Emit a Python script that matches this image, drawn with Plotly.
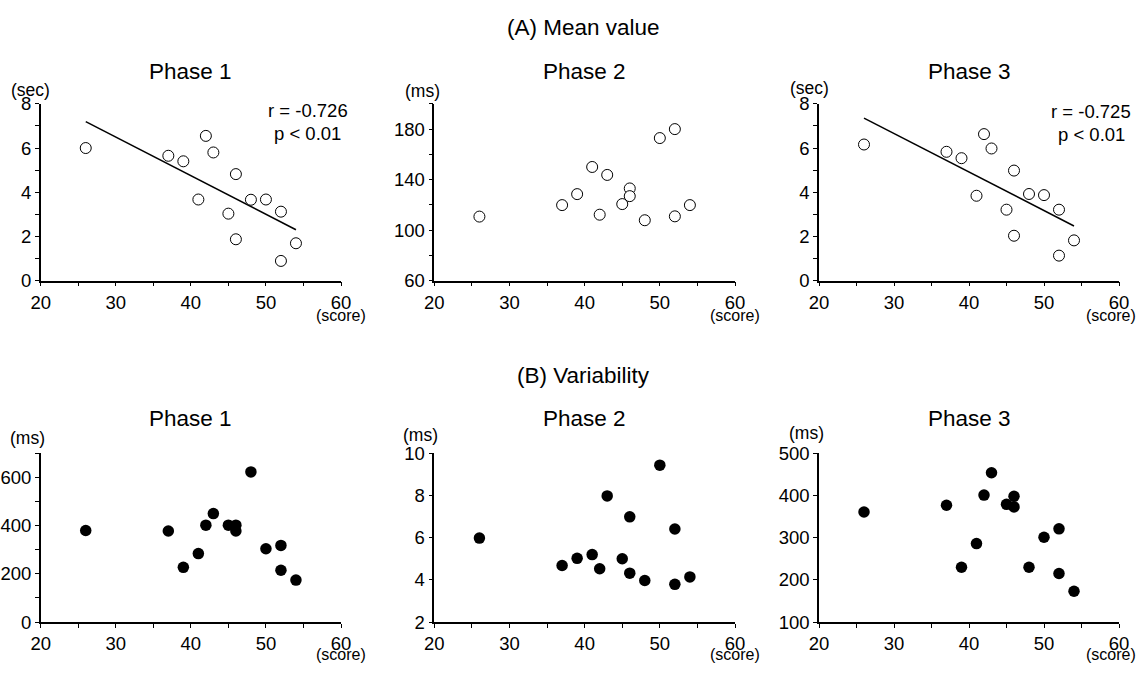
import numpy as np
import plotly.graph_objects as go

W, H = 1148, 675

# ---------------- data ----------------
score = [26, 37, 39, 41, 42, 43, 45, 46, 46, 48, 50, 52, 52, 54]

mean_phase1 = [6.0, 5.65, 5.4, 3.67, 6.55, 5.8, 3.03, 4.82, 1.87, 3.66, 3.67, 3.12, 0.89, 1.69]   # sec
mean_phase2 = [110.7, 119.8, 128.5, 150, 112.2, 143.7, 120.6, 133, 126.9, 107.8, 172.9, 180, 110.9, 119.8]  # ms
mean_phase3 = [6.16, 5.83, 5.54, 3.84, 6.63, 5.98, 3.21, 4.98, 2.03, 3.92, 3.87, 3.21, 1.13, 1.82]  # sec

var_phase1 = [380, 378, 227, 284, 402, 450, 402, 402, 378, 623, 304, 318, 215, 174]   # ms
var_phase2 = [5.98, 4.68, 5.02, 5.2, 4.53, 7.98, 5.0, 6.99, 4.32, 3.97, 9.44, 6.41, 3.79, 4.14]  # ms
var_phase3 = [361, 377, 230, 286, 401, 454, 379, 398, 373, 230, 301, 321, 215, 173]   # ms

panel_titles = ["Phase 1", "Phase 2", "Phase 3"]
section_titles = ["(A) Mean value", "(B) Variability"]
units_top = ["(sec)", "(ms)", "(sec)"]
units_bottom = ["(ms)", "(ms)", "(ms)"]
stats_text = {1: ("r = -0.726", "p < 0.01"), 3: ("r = -0.725", "p < 0.01")}

# y axis settings: (range, label dtick, minor dtick)
yaxes_cfg = [
    ([0, 8], 2, 1),
    ([60, 200], 40, 20),
    ([0, 8], 2, 1),
    ([0, 700], 200, 100),
    ([2, 10], 2, None),
    ([100, 500], 100, None),
]

FONT = "Liberation Sans, Arial, sans-serif"

# ---------------- layout geometry ----------------
# target positions in final picture pixels; the capture maps the page into a
# 10px-inset area, so convert to paper fractions accordingly
PAD = 10.0
AW, AH = W - 2 * PAD, H - 2 * PAD

xcols = [(40.7, 341), (434.3, 735), (819, 1119)]
yrows = [(103, 280), (453, 622)]


def px_x(x):
    return (x - PAD) / AW


def px_y(y):
    return 1 - (y - PAD) / AH


fig = go.Figure()
series = [mean_phase1, mean_phase2, mean_phase3, var_phase1, var_phase2, var_phase3]

TICK_FS = 18.5
TITLE_FS = 22.5
UNIT_FS = 17.5
SCORE_FS = 16

layout = dict(
    width=W, height=H,
    margin=dict(l=0, r=0, t=0, b=0),
    paper_bgcolor="white", plot_bgcolor="white",
    showlegend=False,
    font=dict(family=FONT, size=TICK_FS, color="black"),
)

annotations = []

for i in range(6):
    row, col = divmod(i, 3)
    n = i + 1
    xname = "xaxis" if n == 1 else f"xaxis{n}"
    yname = "yaxis" if n == 1 else f"yaxis{n}"
    xref = "x" if n == 1 else f"x{n}"
    yref = "y" if n == 1 else f"y{n}"

    x0, x1 = xcols[col]
    y0, y1 = yrows[row]
    yr, ydt, ymin = yaxes_cfg[i]

    layout[xname] = dict(
        domain=[px_x(x0), px_x(x1)], anchor=yref,
        range=[20, 60], tickvals=[20, 30, 40, 50, 60],
        showgrid=False, zeroline=False,
        showline=True, linecolor="black", linewidth=1.5,
        ticks="outside", ticklen=4, tickwidth=1.2, tickcolor="black",
        minor=dict(tickvals=[25, 35, 45, 55], ticks="outside", ticklen=4,
                   tickwidth=1.2, tickcolor="black", showgrid=False),
        tickfont=dict(size=TICK_FS, family=FONT, color="black"),
        fixedrange=True,
    )
    ydict = dict(
        domain=[px_y(y1), px_y(y0)], anchor=xref,
        range=yr, dtick=ydt, tick0=yr[0],
        showgrid=False, zeroline=False,
        showline=True, linecolor="black", linewidth=1.5,
        ticks="outside", ticklen=4, tickwidth=1.2, tickcolor="black",
        tickfont=dict(size=TICK_FS, family=FONT, color="black"),
        fixedrange=True,
    )
    if ymin is not None:
        ydict["minor"] = dict(dtick=ymin, tick0=yr[0], ticks="outside", ticklen=4,
                              tickwidth=1.2, tickcolor="black", showgrid=False)
    layout[yname] = ydict

    ys = series[i]
    if row == 0:
        # least-squares regression line for phases 1 and 3
        if col in (0, 2):
            slope, intercept = np.polyfit(score, ys, 1)
            lx = np.array([min(score), max(score)])
            fig.add_trace(go.Scatter(
                x=lx, y=slope * lx + intercept, mode="lines",
                line=dict(color="black", width=1.5),
                xaxis=xref, yaxis=yref, hoverinfo="skip", cliponaxis=False))
        fig.add_trace(go.Scatter(
            x=score, y=ys, mode="markers",
            marker=dict(symbol="circle", size=11, color="white",
                        line=dict(color="black", width=1)),
            xaxis=xref, yaxis=yref, cliponaxis=False))
    else:
        fig.add_trace(go.Scatter(
            x=score, y=ys, mode="markers",
            marker=dict(symbol="circle", size=11.5, color="black",
                        line=dict(color="black", width=0)),
            xaxis=xref, yaxis=yref, cliponaxis=False))

    # panel title
    cx = (x0 + x1) / 2
    ty = 71 if row == 0 else 418
    annotations.append(dict(text=panel_titles[col], x=px_x(cx), y=px_y(ty),
                            xref="paper", yref="paper", xanchor="center", yanchor="middle",
                            showarrow=False, font=dict(size=TITLE_FS, family=FONT, color="black")))
    # unit label above y axis
    unit = units_top[col] if row == 0 else units_bottom[col]
    ux = [30, 422, 809][col] if row == 0 else [27, 420, 806][col]
    uy = [89, 90, 87][col] if row == 0 else [438, 435, 433][col]
    annotations.append(dict(text=unit, x=px_x(ux), y=px_y(uy),
                            xref="paper", yref="paper", xanchor="center", yanchor="middle",
                            showarrow=False, font=dict(size=UNIT_FS, family=FONT, color="black")))
    # (score) label under the right end of the x axis
    sc = dict(text="(score)", xref="paper", yref="paper", showarrow=False,
              font=dict(size=SCORE_FS, family=FONT, color="black"))
    if col == 2:
        sc.update(x=1.0, xanchor="right")
    else:
        sc.update(x=px_x(x1), xanchor="center")
    if row == 0:
        sc.update(y=px_y(315), yanchor="middle")
    else:
        sc.update(y=0.0, yanchor="bottom")
    annotations.append(sc)

# correlation statistics
for col, sx, ry in ((0, 307.5, 110), (2, 1091, 111)):
    r_txt, p_txt = stats_text[col + 1]
    annotations.append(dict(text=r_txt, x=px_x(sx), y=px_y(ry), xref="paper", yref="paper",
                            xanchor="center", yanchor="middle", showarrow=False,
                            font=dict(size=TICK_FS, family=FONT, color="black")))
    annotations.append(dict(text=p_txt, x=px_x(sx), y=px_y(ry + 23), xref="paper", yref="paper",
                            xanchor="center", yanchor="middle", showarrow=False,
                            font=dict(size=TICK_FS, family=FONT, color="black")))

# section titles
for txt, sy in zip(section_titles, (27, 375)):
    annotations.append(dict(text=txt, x=px_x(583), y=px_y(sy), xref="paper", yref="paper",
                            xanchor="center", yanchor="middle", showarrow=False,
                            font=dict(size=TITLE_FS, family=FONT, color="black")))

layout["annotations"] = annotations
fig.update_layout(**layout)
fig.write_html(
    "out.html",
    config={"displayModeBar": False},
    post_script="document.body.style.margin='0';document.body.style.overflow='hidden';",
)
